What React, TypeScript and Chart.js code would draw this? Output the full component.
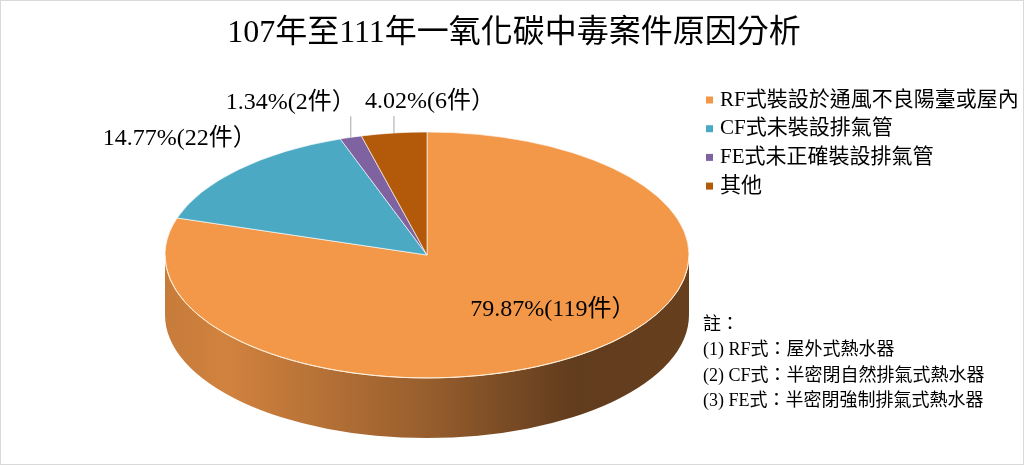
import { useEffect, useRef } from "react";
import { Chart, registerables } from "chart.js";

Chart.register(...registerables);

const chartTitle = "107年至111年一氧化碳中毒案件原因分析";
const categories = [
  "RF式裝設於通風不良陽臺或屋內",
  "CF式未裝設排氣管",
  "FE式未正確裝設排氣管",
  "其他",
];
const caseCounts = [119, 22, 2, 6];
const percentLabels = ["79.87%", "14.77%", "1.34%", "4.02%"];
const sliceColors = ["#F39748", "#4BA9C3", "#7F63A1", "#B2590A"];
const notes = [
  "註：",
  "(1) RF式：屋外式熱水器",
  "(2) CF式：半密閉自然排氣式熱水器",
  "(3) FE式：半密閉強制排氣式熱水器",
];

const FONT = "'Liberation Serif', 'Noto Sans CJK TC', serif";
const TILT = 123 / 262; // vertical squash of the top face
const DEPTH = 60; // thickness of the pie side
// where each value label sits, relative to the rim point at the slice middle
const labelOffsets = [
  [-29, -45],
  [-59, -31],
  [-60, -35],
  [36, -31],
];

const shade = (hex: string, f: number) => {
  const n = parseInt(hex.slice(1), 16);
  const r = Math.round(((n >> 16) & 255) * f);
  const g = Math.round(((n >> 8) & 255) * f);
  const b = Math.round((n & 255) * f);
  return `rgb(${r},${g},${b})`;
};

// draws the side wall, then squashes the canvas so the pie arcs become the top face
const pie3d = {
  id: "pie3d",
  beforeDatasetsDraw(chart: any) {
    const arcs = chart.getDatasetMeta(0).data;
    const { ctx } = chart;
    const { x: cx, y: cy, outerRadius: r } = arcs[0];
    const ry = r * TILT;
    ctx.save();
    arcs.forEach((arc: any, i: number) => {
      const a0 = Math.max(arc.startAngle, 0);
      const a1 = Math.min(arc.endAngle, Math.PI);
      if (a1 <= a0) return;
      const grad = ctx.createLinearGradient(cx - r, 0, cx + r, 0);
      [
        [0, 0.82],
        [0.12, 0.86],
        [0.5, 0.62],
        [0.78, 0.4],
        [1, 0.42],
      ].forEach(([s, f]) => grad.addColorStop(s, shade(sliceColors[i], f)));
      ctx.beginPath();
      ctx.ellipse(cx, cy, r, ry, 0, a0, a1);
      ctx.ellipse(cx, cy + DEPTH, r, ry, 0, a1, a0, true);
      ctx.closePath();
      ctx.fillStyle = grad;
      ctx.fill();
    });
    ctx.restore();
    ctx.save();
    ctx.translate(cx, cy);
    ctx.scale(1, TILT);
    ctx.translate(-cx, -cy);
  },
  afterDatasetsDraw(chart: any) {
    const { ctx } = chart;
    ctx.restore();
    const { x: cx, y: cy, outerRadius: r } = chart.getDatasetMeta(0).data[0];
    ctx.save();
    ctx.beginPath();
    ctx.ellipse(cx, cy, r, r * TILT, 0, 0, Math.PI);
    ctx.strokeStyle = "rgba(255,238,215,0.95)";
    ctx.lineWidth = 1;
    ctx.stroke();
    ctx.restore();
  },
  afterDraw(chart: any) {
    const { ctx } = chart;
    const arcs = chart.getDatasetMeta(0).data;
    const total = caseCounts.reduce((a, b) => a + b, 0);
    ctx.save();

    // title, centred on the whole picture rather than on the pie
    ctx.font = `32px ${FONT}`;
    ctx.fillStyle = "#000";
    ctx.textAlign = "center";
    ctx.textBaseline = "middle";
    ctx.fillText(chartTitle, chart.width / 2 + 2, 33);

    // value labels
    ctx.font = `24px ${FONT}`;
    arcs.forEach((arc: any, i: number) => {
      const mid = (arc.startAngle + arc.endAngle) / 2;
      const rx = arc.x + arc.outerRadius * Math.cos(mid);
      const ry = arc.y + arc.outerRadius * TILT * Math.sin(mid);
      const lx = rx + labelOffsets[i][0];
      const ly = ry + labelOffsets[i][1];
      const text = `${percentLabels[i]}(${caseCounts[i]}件）`;
      if (caseCounts[i] / total < 0.05) {
        const w = ctx.measureText(text).width;
        const x = Math.min(Math.max(rx, lx - w / 2 + 4), lx + w / 2 - 4);
        ctx.beginPath();
        ctx.moveTo(x, ly + 14);
        ctx.lineTo(rx, ry);
        ctx.strokeStyle = "#a6a6a6";
        ctx.lineWidth = 1;
        ctx.stroke();
      }
      ctx.fillStyle = "#000";
      ctx.fillText(text, lx, ly);
    });

    // legend
    ctx.font = `21px ${FONT}`;
    ctx.textAlign = "left";
    categories.forEach((c, i) => {
      const y = 99 + i * 28.7;
      ctx.fillStyle = sliceColors[i];
      ctx.fillRect(705, y - 3.5, 7, 7);
      ctx.fillStyle = "#000";
      ctx.fillText(c, 719, y);
    });

    // notes
    ctx.font = `18px ${FONT}`;
    notes.forEach((n, i) => {
      ctx.fillText(n, 702, 324 + i * 25.4);
    });
    ctx.restore();
  },
};

const PieChart3D = () => {
  const canvasRef = useRef<HTMLCanvasElement | null>(null);

  useEffect(() => {
    document.body.style.margin = "0";
    if (!canvasRef.current) return;
    const chart = new Chart(canvasRef.current, {
      type: "pie",
      data: {
        labels: categories,
        datasets: [
          {
            data: caseCounts,
            backgroundColor: sliceColors,
            borderColor: "rgba(255,255,255,0.85)",
            borderWidth: 1,
            radius: 262,
            clip: false,
          } as any,
        ],
      },
      options: {
        responsive: false,
        animation: false,
        events: [],
        layout: { padding: { left: 0, right: 170, top: 60.4, bottom: 15.4 } },
        plugins: {
          legend: { display: false },
          tooltip: { enabled: false },
          title: { display: false },
        },
      },
      plugins: [pie3d],
    });
    return () => chart.destroy();
  }, []);

  return (
    <div
      style={{
        width: 1024,
        height: 465,
        boxSizing: "border-box",
        border: "1px solid #d9d9d9",
        background: "#fff",
      }}
    >
      <canvas ref={canvasRef} width={1022} height={463} style={{ display: "block" }} />
    </div>
  );
};

export default PieChart3D;
